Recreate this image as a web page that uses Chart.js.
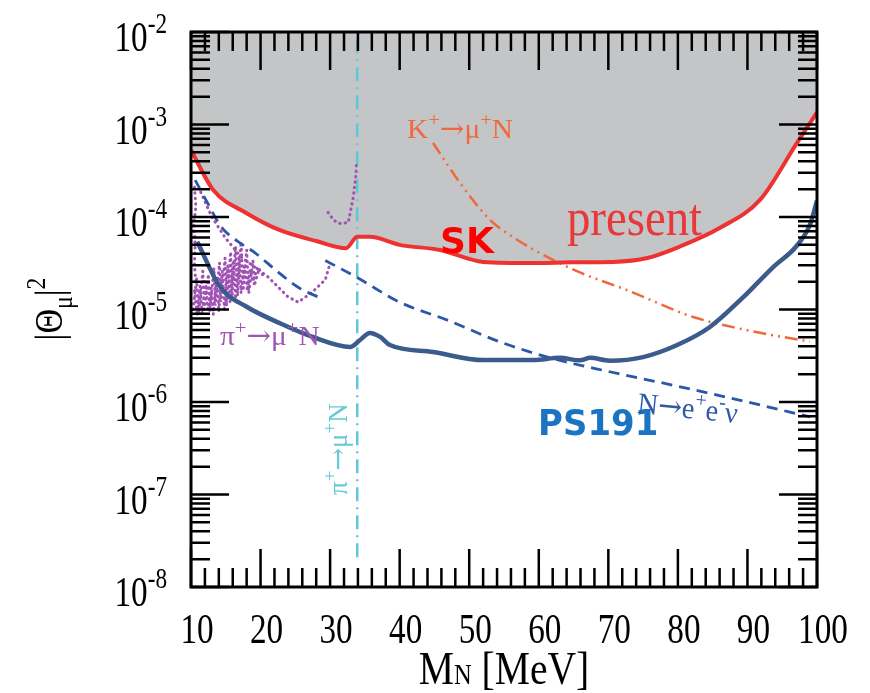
<!DOCTYPE html>
<html>
<head>
<meta charset="utf-8">
<title>Mixing limits vs heavy neutrino mass</title>
<script src="https://cdn.jsdelivr.net/npm/chart.js@4.4.1/dist/chart.umd.min.js"></script>
<style>
  body { margin: 0; background: #fff; }
  #chart { display: block; }
</style>
</head>
<body>
<canvas id="chart" width="870" height="693"></canvas>
<script>
// axis ticks
const xTicks = [10, 20, 30, 40, 50, 60, 70, 80, 90, 100];
const yExps = [-8, -7, -6, -5, -4, -3, -2];

// SK present limit (upper edge of grey region)
const skMass = [10, 13.2, 18, 22.8, 28, 32.3, 33.9, 35.7, 40, 45.8, 52, 59.2, 65, 70.7, 75.6, 80.3, 86, 91.8, 97.1, 100];
const skMix = [5.3e-4, 1.96e-4, 1.1e-4, 7.2e-5, 5.5e-5, 4.6e-5, 6.1e-5, 6.1e-5, 5.0e-5, 4.4e-5, 3.27e-5, 3.18e-5, 3.24e-5, 3.27e-5, 3.6e-5, 4.8e-5, 7.6e-5, 1.53e-4, 6.3e-4, 1.35e-3];

// PS191
const psMass = [10.9, 14.2, 18, 22.8, 27.5, 32.9, 34.3, 35.7, 37.2, 38.6, 44.8, 52, 59.2, 63, 65.9, 67.4, 70.2, 75, 79.9, 84.6, 89.4, 93.7, 97, 99, 100];
const psMix = [5.4e-5, 1.75e-5, 1.07e-5, 7.1e-6, 5.05e-6, 3.94e-6, 4.68e-6, 5.57e-6, 5.05e-6, 4.13e-6, 3.47e-6, 2.84e-6, 2.84e-6, 3.0e-6, 2.82e-6, 3.0e-6, 2.8e-6, 3.06e-6, 4.13e-6, 6.47e-6, 1.36e-5, 2.88e-5, 4.8e-5, 8.3e-5, 1.5e-4];

// N -> e+ e- nu (two pieces)
const eeMassA = [10.6, 12.4, 14.3, 16.8, 19.2, 22.1, 25.4, 28.7];
const eeMixA = [2.5e-4, 1.41e-4, 7.9e-5, 5.4e-5, 4.1e-5, 2.7e-5, 1.74e-5, 1.32e-5];
const eeMassB = [29.3, 34, 40, 47, 54.4, 62, 70, 80, 90, 99];
const eeMixB = [3.39e-5, 2.19e-5, 1.2e-5, 7.6e-6, 4.47e-6, 2.95e-6, 2.14e-6, 1.48e-6, 1.0e-6, 6.9e-7];

// K+ -> mu+ N
const kMass = [44.8, 49.1, 53, 57, 61.2, 66, 72.7, 82.2, 91.8, 99];
const kMix = [6.3e-4, 2.11e-4, 9.3e-5, 5.6e-5, 3.7e-5, 2.5e-5, 1.62e-5, 8.3e-6, 5.6e-6, 4.5e-6];

// pi+ -> mu+ N kinematic edge
const piEdgeMass = [33.9, 33.9];
const piEdgeMix = [2.1e-8, 1e-2];

// pi+ -> mu+ N peak search (dotted)
const piVMass = [29.7, 30.5, 31.2, 32.6, 33.3, 33.7, 33.8];
const piVMix = [1.12e-4, 9.3e-5, 8.5e-5, 8.7e-5, 1.58e-4, 2.8e-4, 4.0e-4];
const piLongMass = [11.4, 13, 14.9, 17.2, 21.1, 23.9, 25.4, 27.3, 29.3, 30];
const piLongMix = [1.86e-4, 1.0e-4, 6.0e-5, 3.7e-5, 2.24e-5, 1.38e-5, 1.2e-5, 1.51e-5, 2.09e-5, 3.16e-5];
const piEdgeLMass = [10.5, 10.7, 10.4, 10.6, 10.5, 10.7];
const piEdgeLMix = [2.1e-4, 1.3e-4, 8e-5, 5e-5, 3e-5, 1.9e-5];
const cloudAMass = [10.3, 10.8, 11.1, 11.7, 11.9, 12.5, 12.7, 13.3, 13.5, 14.1, 14.3, 14.9, 15.1, 15.7, 15.9, 16.4, 16.7, 17.2, 17.5, 18, 18.3, 18.9, 19.1, 19.7];
const cloudAMix = [1e-5, 2.2e-5, 9e-6, 2.6e-5, 1e-5, 2.4e-5, 9.5e-6, 2.8e-5, 1.1e-5, 3.2e-5, 1.2e-5, 3.6e-5, 1.1e-5, 4.2e-5, 1.3e-5, 4.8e-5, 1.4e-5, 5.4e-5, 1.6e-5, 4.4e-5, 1.5e-5, 3.4e-5, 1.8e-5, 2.6e-5];
const cloudBMass = [10.5, 10.9, 11.3, 11.6, 12.1, 12.4, 12.9, 13.2, 13.7, 14, 14.5, 14.8, 15.3, 15.6, 16.1, 16.4, 16.9, 17.2, 17.7, 18.1, 18.5, 18.9, 19.6, 20.4];
const cloudBMix = [1.6e-5, 8.5e-6, 1.8e-5, 9e-6, 2e-5, 1e-5, 1.7e-5, 8.8e-6, 2.2e-5, 9.5e-6, 2.6e-5, 1e-5, 3e-5, 1.2e-5, 3.4e-5, 1.3e-5, 3.8e-5, 1.5e-5, 3.1e-5, 1.6e-5, 2.7e-5, 2e-5, 2.9e-5, 2.3e-5];

const SERIF = '"Liberation Serif", "Times New Roman", serif';
const SANS = '"DejaVu Sans", sans-serif';

const pts = (xs, ys) => xs.map((x, i) => ({ x: x, y: ys[i] }));

function line(data, color, width, extra) {
  return Object.assign({
    data: data,
    borderColor: color,
    borderWidth: width,
    pointRadius: 0,
    fill: false,
    tension: 0.3,
    cubicInterpolationMode: 'monotone'
  }, extra || {});
}

function dotted(data) {
  return line(data, '#a153b4', 3, {
    borderDash: [0.5, 5],
    borderCapStyle: 'round',
    tension: 0,
    cubicInterpolationMode: 'default',
    order: 6
  });
}

// text with sup / sub parts
function partFont(o, kind) {
  const s = kind === 'sup' ? o.size * 0.7 : kind === 'sub' ? o.size * 0.7 : kind === 'small' ? o.size * 0.62 : o.size;
  const fam = kind === 'arrow' ? '"DejaVu Serif", serif' : o.family;
  return (o.weight || 'normal') + ' ' + s + 'px ' + fam;
}
function drawRich(ctx, parts, x, y, o) {
  ctx.save();
  ctx.translate(x, y);
  if (o.rot) ctx.rotate(o.rot);
  ctx.scale(o.sx || 1, 1);
  ctx.fillStyle = o.color;
  ctx.textBaseline = 'alphabetic';
  ctx.textAlign = 'left';
  let w = 0;
  parts.forEach(p => { ctx.font = partFont(o, p[1]); w += ctx.measureText(p[0]).width; });
  let cx = o.align === 'center' ? -w / 2 : o.align === 'right' ? -w : 0;
  parts.forEach(p => {
    ctx.font = partFont(o, p[1]);
    const dy = p[1] === 'sup' ? -o.size * 0.42 : p[1] === 'sub' ? o.size * 0.25 : 0;
    ctx.fillText(p[0], cx, dy);
    cx += ctx.measureText(p[0]).width;
  });
  ctx.restore();
}

const frameTicks = {
  id: 'frameTicks',
  afterDatasetsDraw(chart) {
    const { ctx, chartArea: a, scales: { x, y } } = chart;
    ctx.save();
    ctx.strokeStyle = '#000';
    ctx.lineWidth = 2.5;
    ctx.beginPath();
    for (let v = xTicks[0]; v <= xTicks[xTicks.length - 1]; v += 2) {
      const px = x.getPixelForValue(v);
      const len = xTicks.includes(v) ? 38 : 19;
      ctx.moveTo(px, a.bottom); ctx.lineTo(px, a.bottom - len);
      ctx.moveTo(px, a.top); ctx.lineTo(px, a.top + len);
    }
    yExps.forEach((e, i) => {
      for (let m = 1; m <= 9; m++) {
        if (i === yExps.length - 1 && m > 1) break;
        const py = y.getPixelForValue(m * Math.pow(10, e));
        const len = m === 1 ? 38 : 19;
        ctx.moveTo(a.left, py); ctx.lineTo(a.left + len, py);
        ctx.moveTo(a.right, py); ctx.lineTo(a.right - len, py);
      }
    });
    ctx.stroke();
    ctx.lineWidth = 3;
    ctx.strokeRect(a.left, a.top, a.right - a.left, a.bottom - a.top);
    ctx.restore();
  }
};

const textLabels = {
  id: 'textLabels',
  afterDraw(chart) {
    const { ctx, chartArea: a, scales: { x, y } } = chart;
    const tick = { size: 42, family: SERIF, color: '#000', sx: 0.79 };
    xTicks.forEach(v => {
      drawRich(ctx, [[String(v)]], x.getPixelForValue(v) + 6, a.bottom + 56, Object.assign({ align: 'center' }, tick));
    });
    yExps.forEach(e => {
      drawRich(ctx, [['10'], [String(e), 'sup']], 167, y.getPixelForValue(Math.pow(10, e)) + 19, Object.assign({ align: 'right' }, tick));
    });
    // axis titles
    drawRich(ctx, [['M'], ['N', 'small'], [' [MeV]']], (a.left + a.right) / 2, 684,
      { size: 46, family: SERIF, color: '#000', sx: 0.86, align: 'center' });
    drawRich(ctx, [['|Θ'], ['μ', 'sub'], ['|'], ['2', 'sup']], 62, 309,
      { size: 40, family: SERIF, color: '#000', sx: 0.85, align: 'center', rot: -Math.PI / 2 });

    // curve labels
    const at = (m, v) => [x.getPixelForValue(m), y.getPixelForValue(v)];
    let p = at(64.05, 6.4e-5);
    drawRich(ctx, [['present']], p[0], p[1], { size: 52, family: SERIF, color: '#e8383a', sx: 0.9 });
    p = at(45.8, 4.1e-5);
    drawRich(ctx, [['SK']], p[0], p[1], { size: 36, family: SANS, weight: 'bold', color: '#ff0000', sx: 1 });
    p = at(59.9, 4.4e-7);
    drawRich(ctx, [['PS191']], p[0], p[1], { size: 35, family: SANS, weight: 'bold', color: '#1a74c1', sx: 0.97 });
    p = at(41.05, 7.1e-4);
    drawRich(ctx, [['K'], ['+', 'sup'], ['→', 'arrow'], ['μ'], ['+', 'sup'], ['N']], p[0], p[1], { size: 28, family: SERIF, color: '#ee6a3c', sx: 1.05 });
    p = at(74.1, 7.6e-7);
    drawRich(ctx, [['N'], ['→', 'arrow'], ['e'], ['+', 'sup'], ['e'], ['-', 'sup'], ['ν']], p[0], p[1], { size: 30, family: SERIF, color: '#2f5aa6', sx: 0.95, rot: 0.1 });
    p = at(14.17, 4.1e-6);
    drawRich(ctx, [['π'], ['+', 'sup'], ['→', 'arrow'], ['μ'], ['+', 'sup'], ['N']], p[0], p[1], { size: 28, family: SERIF, color: '#a153b4', sx: 1.05 });
    p = at(32.43, 9.9e-8);
    drawRich(ctx, [['π'], ['+', 'sup'], ['→', 'arrow'], ['μ'], ['+', 'sup'], ['N']], p[0], p[1], { size: 27, family: SERIF, color: '#66c9d8', sx: 1, rot: -Math.PI / 2 });
  }
};

new Chart(document.getElementById('chart'), {
  type: 'line',
  data: {
    datasets: [
      line(pts(skMass, skMix), '#ee3232', 0, { fill: 'end', backgroundColor: '#c4c5c7', order: 10 }),
      line(pts(piEdgeMass, piEdgeMix), '#5fc8d8', 2.5, { borderDash: [14, 6, 2, 6], tension: 0, cubicInterpolationMode: 'default', order: 7 }),
      dotted(pts(piVMass, piVMix)),
      dotted(pts(piLongMass, piLongMix)),
      dotted(pts(piEdgeLMass, piEdgeLMix)),
      dotted(pts(cloudAMass, cloudAMix)),
      dotted(pts(cloudBMass, cloudBMix)),
      line(pts(eeMassA, eeMixA), '#2c57a8', 2.8, { borderDash: [11, 7], order: 4 }),
      line(pts(eeMassB, eeMixB), '#2c57a8', 2.8, { borderDash: [11, 7], order: 4 }),
      line(pts(kMass, kMix), '#ee6a3c', 2.5, { borderDash: [13, 5, 2, 5, 2, 5], order: 3 }),
      line(pts(psMass, psMix), '#3a5b8c', 4.5, { order: 2 }),
      line(pts(skMass, skMix), '#ee3232', 4, { order: 1 })
    ]
  },
  options: {
    responsive: false,
    animation: false,
    devicePixelRatio: 1,
    layout: { padding: { left: 191, top: 32, right: 53, bottom: 106 } },
    plugins: { legend: { display: false }, tooltip: { enabled: false } },
    scales: {
      x: { type: 'linear', min: 10, max: 100, display: false },
      y: { type: 'logarithmic', min: 1e-8, max: 1e-2, display: false }
    }
  },
  plugins: [frameTicks, textLabels]
});
</script>
</body>
</html>
